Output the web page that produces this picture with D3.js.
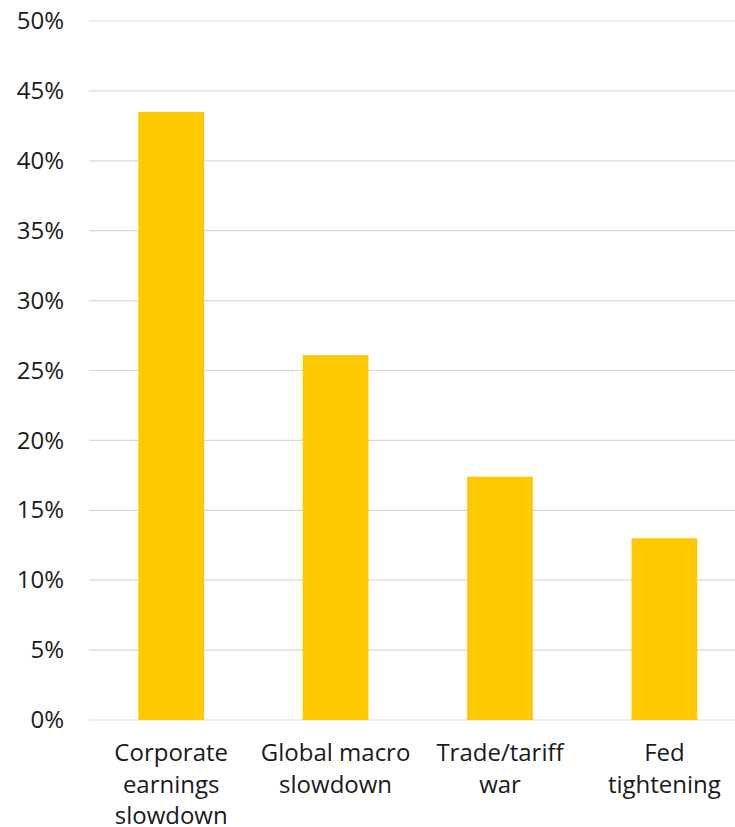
<!DOCTYPE html>
<html><head><meta charset="utf-8">
<script src="https://cdn.jsdelivr.net/npm/d3@7"></script>
<style>body{margin:0;background:#fff}text{font-family:"Open Sans",sans-serif}</style>
</head><body><svg id="c" width="735" height="827"></svg>
<script>
const categories = [["Corporate","earnings","slowdown"],["Global macro","slowdown"],["Trade/tariff","war"],["Fed","tightening"]];
const values = [43.5, 26.1, 17.4, 13.0];
const yTicks = [0,5,10,15,20,25,30,35,40,45,50];

const FONT = "'Open Sans', sans-serif";
const FS = 24;
const svg = d3.select("#c");
const x = d3.scaleBand().domain(d3.range(categories.length)).range([89, 746.6]).paddingInner(0.6).paddingOuter(0.3);
const y = d3.scaleLinear().domain([0,50]).range([720, 21]);

const grid = svg.append("g");
grid.selectAll("line").data(yTicks).join("line")
  .attr("x1",89).attr("x2",746).attr("y1",d=>y(d)).attr("y2",d=>y(d))
  .attr("stroke","#d9d9d9").attr("stroke-width",1.2);

const yAxis = d3.axisLeft(y).tickValues(yTicks).tickFormat(d=>d+"%").tickSize(0).tickPadding(0);
const ya = svg.append("g").attr("transform","translate(64,0)").call(yAxis);
ya.select(".domain").remove();
ya.selectAll("text").attr("font-size",FS).attr("fill","#1a1a1a").attr("font-family",FONT);

svg.append("g").selectAll("rect").data(values).join("rect")
  .attr("x",(d,i)=>x(i)).attr("width",x.bandwidth())
  .attr("y",d=>y(d)).attr("height",d=>y(0)-y(d)).attr("fill","#ffc800");

const lab = svg.append("g");
categories.forEach((lines,i)=>{
  const t = lab.append("text").attr("text-anchor","middle").attr("font-size",FS).attr("fill","#1a1a1a")
    .attr("font-family",FONT).attr("x", x(i)+x.bandwidth()/2).attr("y",761);
  lines.forEach((l,j)=>t.append("tspan").attr("x",x(i)+x.bandwidth()/2).attr("dy", j===0?0:31.5).text(l));
});
</script></body></html>
